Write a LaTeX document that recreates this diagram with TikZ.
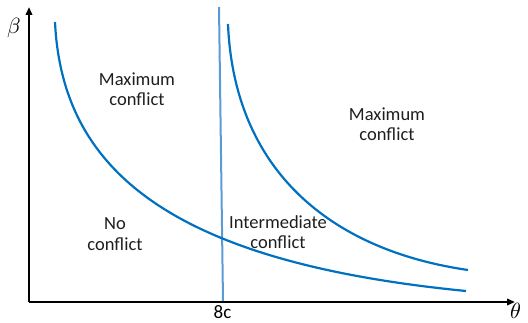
\documentclass[tikz,border=0pt]{standalone}
\usepackage{fontspec}
\usepackage{unicode-math}
\setmainfont{Carlito}
\setmathfont{Latin Modern Math}
\usetikzlibrary{arrows.meta}
\definecolor{curveblue}{RGB}{0,112,192}
\definecolor{lineblue}{RGB}{91,155,213}
\definecolor{labelgray}{RGB}{30,30,30}
\begin{document}
\begin{tikzpicture}[x=1pt,y=-1pt,
  axis/.style={line width=2pt,-{Triangle[length=8pt,width=6.5pt]}},
  curve/.style={curveblue,line width=2.2pt},
  region/.style={align=center,text=labelgray,inner sep=0pt,
    font=\fontsize{18.5}{20.5}\selectfont},
  axislabel/.style={inner sep=0pt,font=\fontsize{22}{25}\selectfont},
  ticklabel/.style={inner sep=0pt,font=\fontsize{19}{21}\selectfont}]
\useasboundingbox (0,0) rectangle (528,323);

% axes
\coordinate (origin) at (29,302);
\coordinate (ytip) at (29,7);
\coordinate (xtip) at (515,302);
\draw[axis] (origin) -- (ytip);
\draw[axis] (origin) -- (xtip);
\node[axislabel] (beta) at (14,28) {$\beta$};
\node[axislabel] (theta) at (516,311) {$\theta$};

% threshold line at 8c
\coordinate (vtop) at (219,7);
\coordinate (vbot) at (223,301);
\draw[lineblue,line width=2pt] (vtop) -- (vbot);
\node[ticklabel] (tick) at (222.5,312) {8c};

% lower boundary curve
\coordinate (lowstart) at (55,22);
\coordinate (lowend) at (466,291);
\draw[curve] (lowstart) .. controls (62,170) and (170,262) .. (lowend);

% upper boundary curve
\coordinate (upstart) at (228,24);
\coordinate (upend) at (468,270);
\draw[curve] (upstart) .. controls (234,170) and (330,250) .. (upend);

% region labels
\node[region] (maxleft) at (137,89) {Maximum\\conflict};
\node[region] (maxright) at (387,124) {Maximum\\conflict};
\node[region] (none) at (115,234) {No\\conflict};
\node[region] (mid) at (278,232) {Intermediate\\conflict};
\end{tikzpicture}
\end{document}
